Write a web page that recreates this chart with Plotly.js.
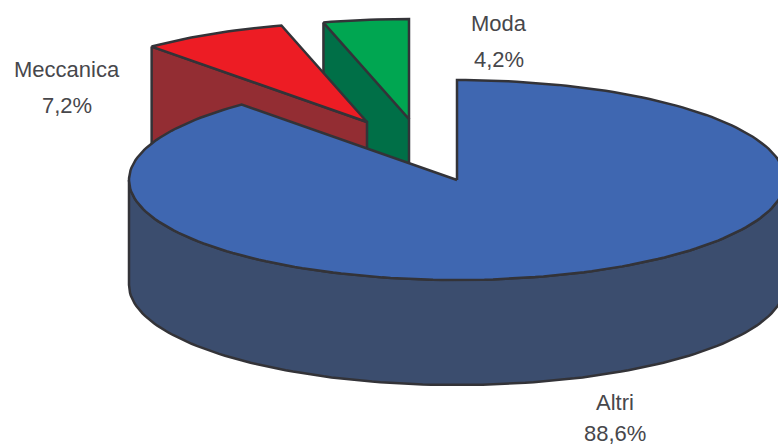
<!DOCTYPE html>
<html><head><meta charset="utf-8">
<script src="https://cdn.plot.ly/plotly-3.0.1.min.js"></script>
<style>html,body{margin:0;padding:0;background:#fff;overflow:hidden}#c{width:778px;height:448px}</style>
</head><body><div id="c"></div>
<script>
const categories = ['Altri', 'Meccanica', 'Moda'];
const values = [88.6, 7.2, 4.2];
const topColors = ['#3f67b1', '#ed1c24', '#00a651'];
const sideColors = ['#3b4d6e', '#932d33', '#006f47'];
const apexX = [457, 367, 409];
const apexY = [180, 122, 119];
const labelX = [615, 67, 499];
const nameY = [402, 69, 23];
const percentY = [433, 105, 59];

const RX = 328, RY = 100, DEPTH = 105, EDGE = '#333338', LW = 2.5;
const total = values.reduce((a, b) => a + b, 0);
const pt = (i, deg, dy = 0) => {
  const r = deg * Math.PI / 180;
  return [apexX[i] + RX * Math.sin(r), apexY[i] - RY * Math.cos(r) + dy];
};
const arc = (i, a, b, dy = 0) => {
  const n = Math.max(2, Math.ceil(Math.abs(b - a) / 1.5));
  const out = [];
  for (let k = 0; k <= n; k++) out.push(pt(i, a + (b - a) * k / n, dy));
  return out;
};
const poly = (pts, fill) => {
  const closed = pts.concat([pts[0]]);
  return {
    type: 'scatter', mode: 'lines', hoverinfo: 'skip', showlegend: false,
    x: closed.map(p => p[0]), y: closed.map(p => p[1]),
    fill: 'toself', fillcolor: fill,
    line: { color: EDGE, width: LW, shape: 'linear' }
  };
};

let start = 0;
const spans = values.map(v => { const a = start; start += v / total * 360; return [a, start]; });
const apex = i => [apexX[i], apexY[i]];
const drop = (p, d) => [p[0], p[1] + d];

const traces = [];
[2, 1].forEach(i => {
  const [a, b] = spans[i];
  const o = pt(i, a), c = apex(i);
  traces.push(poly([o, c, drop(c, DEPTH), drop(o, DEPTH)], sideColors[i]));
  traces.push(poly([c].concat(arc(i, a, b)), topColors[i]));
});
traces.push(poly(arc(0, 90, 270).concat(arc(0, 270, 90, DEPTH)), sideColors[0]));
traces.push(poly([apex(0)].concat(arc(0, spans[0][0], spans[0][1])), topColors[0]));

const fmt = v => v.toFixed(1).replace('.', ',') + '%';
const annotations = [];
categories.forEach((c, i) => {
  [[c, nameY[i]], [fmt(values[i]), percentY[i]]].forEach(([t, y]) => {
    annotations.push({
      x: labelX[i], y, text: t, showarrow: false, xanchor: 'center', yanchor: 'middle',
      font: { family: '"Liberation Sans", sans-serif', size: 22, color: '#47474b' }
    });
  });
});

Plotly.newPlot('c', traces, {
  width: 778, height: 448, margin: { l: 0, r: 0, t: 0, b: 0 },
  paper_bgcolor: '#fff', plot_bgcolor: '#fff', showlegend: false,
  xaxis: { range: [0, 778], visible: false, fixedrange: true },
  yaxis: { range: [448, 0], visible: false, fixedrange: true },
  annotations
}, { displayModeBar: false, staticPlot: true });
</script></body></html>
